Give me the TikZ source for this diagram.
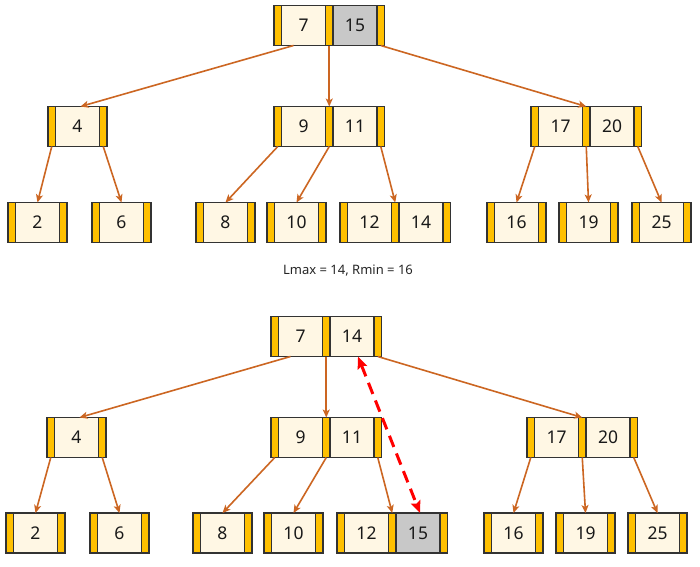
\documentclass[tikz,border=0pt]{standalone}
\usepackage{fontspec}
\setmainfont{Noto Sans}
\usetikzlibrary{arrows.meta,calc}
\definecolor{stripc}{HTML}{FFC000}
\definecolor{keyc}{HTML}{FFF7E4}
\definecolor{grayc}{HTML}{C8C8C8}
\definecolor{edgec}{HTML}{CC6622}
\definecolor{borderc}{HTML}{333333}
\tikzset{
  strip/.style={draw=borderc,line width=1.1pt,fill=stripc,minimum width=7.5pt,minimum height=40pt,inner sep=0pt,outer sep=0pt},
  keybox/.style={draw=borderc,line width=1.1pt,fill=keyc,minimum width=44pt,minimum height=40pt,inner sep=0pt,outer sep=0pt,font=\fontsize{17.5}{20}\selectfont,text=black!90},
  hl/.style={fill=grayc},
  edge/.style={draw=edgec,line width=1.6pt,-{Stealth[length=8pt,width=7pt,inset=2pt]},shorten >=0pt},
  move/.style={draw=red,line width=3pt,dash pattern=on 12pt off 7pt,{Stealth[length=12pt,width=10pt,inset=2pt]}-{Stealth[length=12pt,width=10pt,inset=2pt]}},
  lbl/.style={font=\fontsize{13}{15}\selectfont,text=black!85}
}
\newcommand{\onekey}[4]{%
  \node[strip,anchor=north west] (#1L) at (#2,#3) {};
  \node[keybox,anchor=west] (#1A) at (#1L.east) {#4};
  \node[strip,anchor=west] (#1R) at (#1A.east) {};
}
\newcommand{\twokey}[6]{%
  \node[strip,anchor=north west] (#1L) at (#2,#3) {};
  \node[keybox,anchor=west] (#1A) at (#1L.east) {#4};
  \node[strip,anchor=west] (#1M) at (#1A.east) {};
  \node[keybox,#6,anchor=west] (#1B) at (#1M.east) {#5};
  \node[strip,anchor=west] (#1R) at (#1B.east) {};
}
\begin{document}
\begin{tikzpicture}[x=1pt,y=-1pt]
\useasboundingbox[fill=white] (0,0) rectangle (700,566);
% ---------- top tree ----------
\twokey{r}{274}{5.5}{7}{15}{hl}
\onekey{a}{48}{106.5}{4}
\twokey{b}{274}{106.5}{9}{11}{}
\twokey{c}{531}{106.5}{17}{20}{}
\onekey{d}{8}{202.5}{2}
\onekey{e}{92}{202.5}{6}
\onekey{f}{196}{202.5}{8}
\onekey{g}{267}{202.5}{10}
\twokey{h}{340}{202.5}{12}{14}{}
\onekey{i}{487}{202.5}{16}
\onekey{j}{559}{202.5}{19}
\onekey{k}{632}{202.5}{25}
\coordinate (rS) at ($(rA.south west)+(12,0)$);
\draw[edge] (rS) -- ($(aA.north)+(3,0)$);
\draw[edge] (rM.south) -- (bM.north);
\draw[edge] (rR.south) -- (cM.north);
\draw[edge] (aL.south) -- (dA.north);
\draw[edge] (aR.south) -- (eA.north);
\draw[edge] (bL.south) -- (fA.north);
\draw[edge] (bM.south) -- (gA.north);
\draw[edge] (bR.south) -- (hM.north);
\draw[edge] (cL.south) -- (iA.north);
\draw[edge] (cM.south) -- (jA.north);
\draw[edge] (cR.south) -- (kA.north);
% ---------- label ----------
\node[lbl] (note) at (348,270.5) {Lmax = 14, Rmin = 16};
% ---------- bottom tree ----------
\twokey{R}{271}{316.5}{7}{14}{}
\onekey{A}{47}{417.5}{4}
\twokey{B}{271}{417.5}{9}{11}{}
\twokey{C}{527}{417.5}{17}{20}{}
\onekey{D}{6}{513}{2}
\onekey{E}{90}{513}{6}
\onekey{F}{193}{513}{8}
\onekey{G}{264}{513}{10}
\twokey{H}{337}{513}{12}{15}{hl}
\onekey{I}{484}{513}{16}
\onekey{J}{556}{513}{19}
\onekey{K}{628}{513}{25}
\coordinate (RS) at ($(RA.south west)+(12,0)$);
\draw[edge] (RS) -- ($(AA.north)+(3,0)$);
\draw[edge] (RM.south) -- (BM.north);
\draw[edge] (RR.south) -- (CM.north);
\draw[edge] (AL.south) -- (DA.north);
\draw[edge] (AR.south) -- (EA.north);
\draw[edge] (BL.south) -- (FA.north);
\draw[edge] (BM.south) -- (GA.north);
\draw[edge] (BR.south) -- (HM.north);
\draw[edge] (CL.south) -- (IA.north);
\draw[edge] (CM.south) -- (JA.north);
\draw[edge] (CR.south) -- (KA.north);
\coordinate (mvA) at ($(RB.south)+(6,0)$);
\coordinate (mvB) at ($(HB.north)+(2,0)$);
\draw[move] (mvA) -- (mvB);
\end{tikzpicture}
\end{document}
